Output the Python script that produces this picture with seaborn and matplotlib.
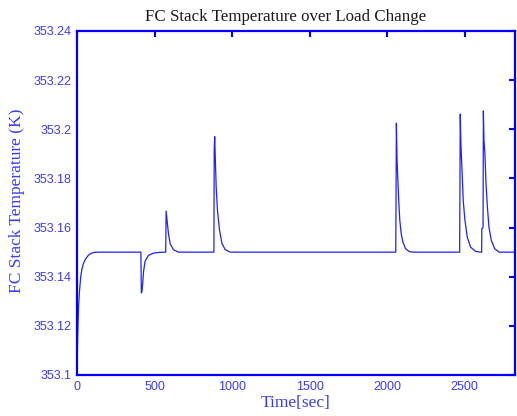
import matplotlib
matplotlib.use("Agg")
import matplotlib.pyplot as plt
import seaborn as sns
import pandas as pd

# Stack temperature response to a sequence of load steps
time_s = [0, 2, 4, 7, 11, 16, 24, 32, 41, 55, 73, 90, 110, 140,
          412, 415, 419, 424, 429, 439, 461, 493, 530, 572,
          575, 583, 590, 601, 622, 655,
          883, 885, 888, 893, 898, 906, 919, 935, 956, 988,
          2056, 2060, 2064, 2069, 2076, 2082, 2091, 2102, 2119, 2141, 2163,
          2468, 2472, 2476, 2485, 2491, 2502, 2517, 2539, 2571, 2603,
          2610, 2611, 2619, 2621, 2625, 2631, 2638, 2647, 2657, 2672, 2694, 2722,
          2825]
temp_k = [353.101, 353.108, 353.115, 353.122, 353.129, 353.134, 353.140, 353.1432,
          353.1453, 353.1472, 353.1487, 353.1495, 353.1499, 353.1500,
          353.1500, 353.1334, 353.1340, 353.1375, 353.1420, 353.1463, 353.1487,
          353.1496, 353.1499, 353.1500,
          353.1667, 353.1616, 353.1575, 353.1534, 353.1510, 353.1500,
          353.1500, 353.1920, 353.1970, 353.1860, 353.1760, 353.1670, 353.1590,
          353.1535, 353.1510, 353.1500,
          353.1500, 353.2025, 353.1880, 353.1800, 353.1697, 353.1630, 353.1575,
          353.1541, 353.1514, 353.1503, 353.1500,
          353.1500, 353.2062, 353.1940, 353.1805, 353.1710, 353.1630, 353.1561,
          353.1520, 353.1503, 353.1500,
          353.1500, 353.1595, 353.1600, 353.2075, 353.1954, 353.1900, 353.1778,
          353.1683, 353.1602, 353.1548, 353.1514, 353.1500,
          353.1500]

x_ticks = [0, 500, 1000, 1500, 2000, 2500]
x_tick_labels = ["0", "500", "1000", "1500", "2000", "2500"]
y_ticks = [353.10, 353.12, 353.14, 353.16, 353.18, 353.20, 353.22, 353.24]
y_tick_labels = ["353.1", "353.12", "353.14", "353.16", "353.18", "353.2",
                 "353.22", "353.24"]

title_text = "FC Stack Temperature over Load Change"
x_label = "Time[sec]"
y_label = "FC Stack Temperature (K)"

df = pd.DataFrame({"time": time_s, "temp": temp_k})

sns.set_style("white")
plt.rcParams["font.family"] = ["Liberation Sans", "DejaVu Sans"]

AXIS_BLUE = "#0000ff"
TEXT_BLUE = "#3a3aff"

fig = plt.figure(figsize=(5.17, 4.16), dpi=100)
ax = fig.add_axes([77 / 517, 1 - 375 / 416, 438 / 517, 344 / 416])

sns.lineplot(data=df, x="time", y="temp", ax=ax, color="#1f1fff",
             linewidth=0.9, estimator=None, sort=False)

ax.set_xlim(0, 2825)
ax.set_ylim(353.10, 353.24)
ax.set_xticks(x_ticks)
ax.set_xticklabels(x_tick_labels)
ax.set_yticks(y_ticks)
ax.set_yticklabels(y_tick_labels)

for side in ["left", "right", "top", "bottom"]:
    ax.spines[side].set_visible(True)
    ax.spines[side].set_color(AXIS_BLUE)
    ax.spines[side].set_linewidth(1.6)

ax.tick_params(axis="both", which="major", direction="in", length=4,
               width=1.5, color=AXIS_BLUE, top=True, right=True,
               labelcolor=TEXT_BLUE, labelsize=9, pad=4)
ax.grid(False)

serif = ["Liberation Serif", "DejaVu Serif"]
ax.set_title(title_text, family=serif, fontsize=12.2, color="#1a1a1a",
             x=0.476, pad=7)
ax.set_xlabel(x_label, family=serif, fontsize=12.5, color=TEXT_BLUE)
ax.set_ylabel(y_label, family=serif, fontsize=12.5, color=TEXT_BLUE)
ax.xaxis.set_label_coords(0.5, -0.058)
ax.yaxis.set_label_coords(-0.118, 0.505)

fig.savefig("out.png", dpi=100)
